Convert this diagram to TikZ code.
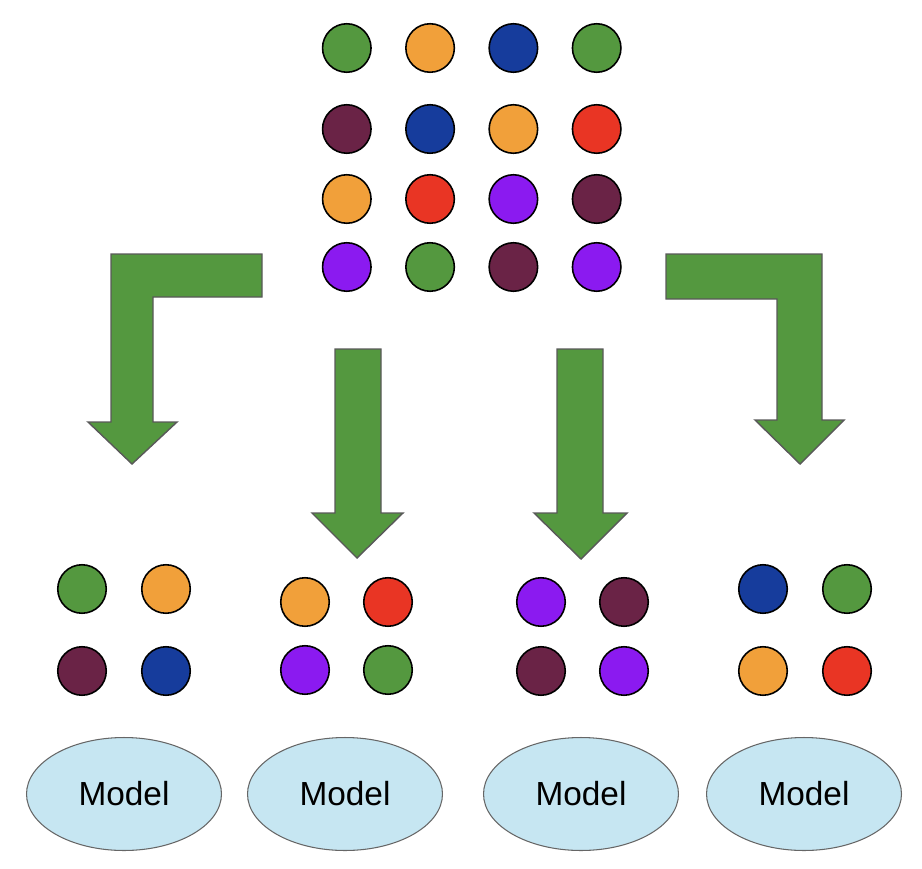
\documentclass[tikz,border=0pt]{standalone}
\usepackage{fontspec}
\setmainfont{Liberation Sans}
\usetikzlibrary{shapes.geometric}
\definecolor{grn}{HTML}{54983F}
\definecolor{org}{HTML}{F1A03A}
\definecolor{blu}{HTML}{163C9C}
\definecolor{mrn}{HTML}{6A2346}
\definecolor{rd}{HTML}{E93524}
\definecolor{prp}{HTML}{8B1AF0}
\definecolor{mdl}{HTML}{C6E6F2}

\begin{document}
\begin{tikzpicture}[x=0.02cm, y=-0.02cm,
  dot/.style={draw=black, circle, line width=0.9pt, minimum size=0.97cm, inner sep=0pt},
  model/.style={draw=black!60, ellipse, fill=mdl, line width=0.6pt, minimum width=3.9cm, minimum height=2.26cm, font=\fontsize{19}{22}\selectfont},
  bigarrow/.style={draw=black!65, fill=grn, line width=0.8pt, line join=miter}
]
\useasboundingbox (0,0) rectangle (922,868);
\foreach \c [count=\i] in {grn,org,blu,grn} \node[dot, fill=\c] (a\i) at ({263.5+83.3*\i},48) {};
\foreach \c [count=\i] in {mrn,blu,org,rd} \node[dot, fill=\c] (b\i) at ({263.5+83.3*\i},129) {};
\foreach \c [count=\i] in {org,rd,prp,mrn} \node[dot, fill=\c] (c\i) at ({263.5+83.3*\i},199) {};
\foreach \c [count=\i] in {prp,grn,mrn,prp} \node[dot, fill=\c] (d\i) at ({263.5+83.3*\i},267) {};

\draw[bigarrow] (262,254) -- (111,254) -- (111,422) -- (88,422) -- (132,464) -- (177,422) -- (153,422) -- (153,297) -- (262,297) -- cycle;
\draw[bigarrow] (335,349) -- (381,349) -- (381,513) -- (403,513) -- (357,558) -- (312,513) -- (335,513) -- cycle;
\draw[bigarrow] (557,349) -- (603,349) -- (603,513) -- (627,513) -- (581,559) -- (534,513) -- (557,513) -- cycle;
\draw[bigarrow] (666,254) -- (822,254) -- (822,420) -- (844,420) -- (800,464) -- (755,420) -- (777,420) -- (777,299) -- (666,299) -- cycle;

\foreach \x/\y/\c [count=\i] in {82/589/grn,166/589/org,82/671/mrn,166/671/blu} \node[dot, fill=\c] (p\i) at (\x,\y) {};
\foreach \x/\y/\c [count=\i] in {305/602/org,388/602/rd,305/670/prp,388/670/grn} \node[dot, fill=\c] (q\i) at (\x,\y) {};
\foreach \x/\y/\c [count=\i] in {541/602/prp,624/602/mrn,541/671/mrn,624/671/prp} \node[dot, fill=\c] (r\i) at (\x,\y) {};
\foreach \x/\y/\c [count=\i] in {763/589/blu,847/589/grn,763/671/org,847/671/rd} \node[dot, fill=\c] (s\i) at (\x,\y) {};

\node[model] (m1) at (124,794) {Model};
\node[model] (m2) at (345,794) {Model};
\node[model] (m3) at (581,794) {Model};
\node[model] (m4) at (804,794) {Model};
\end{tikzpicture}
\end{document}
